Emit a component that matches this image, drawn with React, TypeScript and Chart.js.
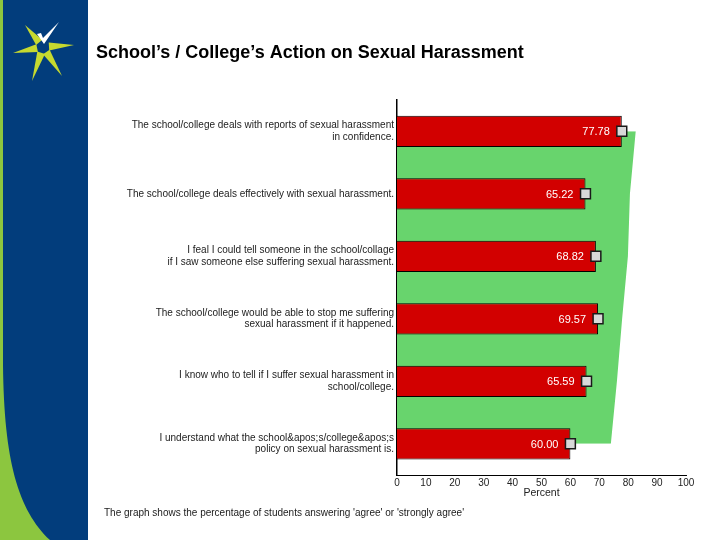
import React, { useEffect, useRef } from 'react';
import { Chart, registerables } from 'chart.js';

Chart.register(...registerables);

const FONT = "'Liberation Sans', Arial, sans-serif";

const categories: (string | string[])[] = [
  ['The school/college deals with reports of sexual harassment', 'in confidence.'],
  'The school/college deals effectively with sexual harassment.',
  ['I feal I could tell someone in the school/collage', 'if I saw someone else suffering sexual harassment.'],
  ['The school/college would be able to stop me suffering', 'sexual harassment if it happened.'],
  ['I know who to tell if I suffer sexual harassment in', 'school/college.'],
  ['I understand what the school&apos;s/college&apos;s', 'policy on sexual harassment is.'],
];

const agreeValues = [77.78, 65.22, 68.82, 69.57, 65.59, 60.0];
const comparisonValues = [82.6, 80.6, 79.9, 77.9, 76.1, 74.0];

const xMin = 0;
const xMax = 100;
const xStep = 10;

const titleText = 'School\u2019s / College\u2019s Action on Sexual Harassment';
const footerText = "The graph shows the percentage of students answering 'agree' or 'strongly agree'";
const axisTitle = 'Percent';

export default function App() {
  const ref = useRef<HTMLCanvasElement>(null);

  useEffect(() => {
    const canvas = ref.current;
    if (!canvas) return;

    const decor = {
      id: 'decor',
      beforeDraw(chart: any) {
        const ctx = chart.ctx as CanvasRenderingContext2D;
        ctx.save();
        ctx.fillStyle = '#ffffff';
        ctx.fillRect(0, 0, 720, 540);
        // blue band
        ctx.fillStyle = '#023d7c';
        ctx.fillRect(0, 0, 88, 540);
        // green strip + curve
        ctx.fillStyle = '#8cc63f';
        ctx.beginPath();
        ctx.moveTo(0, 0);
        ctx.lineTo(3, 0);
        ctx.lineTo(3, 365);
        ctx.bezierCurveTo(4, 460, 18, 510, 50, 540);
        ctx.lineTo(0, 540);
        ctx.closePath();
        ctx.fill();
        // logo star
        const cx = 43, cy = 47;
        const arms: [number, number][] = [
          [25, 25],
          [13, 53],
          [74, 45],
          [32, 81],
          [62, 76],
        ];
        ctx.fillStyle = '#c6d92f';
        arms.forEach(([tx, ty]) => {
          const dx = tx - cx, dy = ty - cy;
          const len = Math.hypot(dx, dy);
          const ux = dx / len, uy = dy / len;
          const px = -uy, py = ux;
          const bx = cx + ux * 6, by = cy + uy * 6;
          ctx.beginPath();
          ctx.moveTo(tx, ty);
          ctx.lineTo(bx + px * 4, by + py * 4);
          ctx.lineTo(bx - px * 4, by - py * 4);
          ctx.closePath();
          ctx.fill();
        });
        // white check
        ctx.fillStyle = '#ffffff';
        ctx.beginPath();
        ctx.moveTo(37, 34);
        ctx.lineTo(41, 33);
        ctx.lineTo(43, 38);
        ctx.lineTo(59, 22);
        ctx.lineTo(44, 44);
        ctx.closePath();
        ctx.fill();
        ctx.restore();
      },
    };

    const texts = {
      id: 'texts',
      afterDraw(chart: any) {
        const ctx = chart.ctx as CanvasRenderingContext2D;
        ctx.save();
        ctx.fillStyle = '#000000';
        ctx.textAlign = 'left';
        ctx.textBaseline = 'alphabetic';
        ctx.font = `bold 18px ${FONT}`;
        ctx.fillText(titleText, 96, 58);
        ctx.fillStyle = '#1a1a1a';
        ctx.font = `10px ${FONT}`;
        ctx.fillText(footerText, 104, 516);
        ctx.restore();
      },
    };

    const valueLabels = {
      id: 'valueLabels',
      afterDatasetsDraw(chart: any) {
        const ctx = chart.ctx as CanvasRenderingContext2D;
        const meta = chart.getDatasetMeta(1);
        ctx.save();
        ctx.fillStyle = '#ffffff';
        ctx.font = `11px ${FONT}`;
        ctx.textAlign = 'right';
        ctx.textBaseline = 'middle';
        meta.data.forEach((el: any, i: number) => {
          ctx.fillText(agreeValues[i].toFixed(2), el.x - 12, el.y + 1);
        });
        ctx.restore();
      },
    };

    const chart = new Chart(canvas, {
      type: 'bar',
      data: {
        labels: categories as any,
        datasets: [
          {
            type: 'line',
            label: 'Comparison',
            data: comparisonValues,
            indexAxis: 'y',
            fill: 'origin',
            backgroundColor: '#68d46d',
            borderColor: '#68d46d',
            borderWidth: 0,
            pointRadius: 0,
            tension: 0,
            order: 3,
          } as any,
          {
            type: 'bar',
            label: 'Agree',
            data: agreeValues,
            backgroundColor: '#d20000',
            borderColor: '#000000',
            borderWidth: 1,
            barPercentage: 0.5,
            categoryPercentage: 1,
            order: 2,
          } as any,
          {
            type: 'line',
            label: 'Markers',
            data: agreeValues,
            indexAxis: 'y',
            showLine: false,
            pointStyle: 'rect',
            pointRadius: 7,
            pointBackgroundColor: '#d8d8d8',
            pointBorderColor: '#1a1a1a',
            pointBorderWidth: 1.5,
            order: 1,
          } as any,
        ],
      },
      options: {
        indexAxis: 'y',
        responsive: false,
        animation: false,
        layout: { padding: { left: 0, top: 100, right: 34, bottom: 35 } },
        plugins: {
          legend: { display: false },
          tooltip: { enabled: false },
          title: { display: false },
        },
        scales: {
          x: {
            type: 'linear',
            min: xMin,
            max: xMax,
            ticks: {
              stepSize: xStep,
              font: { family: FONT, size: 10 },
              color: '#222222',
              padding: 2,
              maxRotation: 0,
            },
            grid: { display: false, drawTicks: false },
            border: { display: true, color: '#000000', width: 1 },
            title: {
              display: true,
              text: axisTitle,
              font: { family: FONT, size: 10.5 },
              color: '#222222',
              padding: { top: 2, bottom: 6 },
            },
            afterFit(scale: any) {
              scale.height = 30;
            },
          },
          y: {
            type: 'category',
            ticks: {
              font: { family: FONT, size: 10, lineHeight: 1.15 },
              color: '#222222',
              padding: 3,
              autoSkip: false,
            },
            grid: { display: false, drawTicks: false },
            border: { display: true, color: '#000000', width: 1.5 },
            afterFit(scale: any) {
              scale.width = 397;
            },
          },
        },
      } as any,
      plugins: [decor, valueLabels, texts],
    });

    return () => chart.destroy();
  }, []);

  return (
    <div style={{ position: 'absolute', left: 0, top: 0, width: 720, height: 540 }}>
      <canvas ref={ref} width={720} height={540} style={{ display: 'block', width: 720, height: 540 }} />
    </div>
  );
}
